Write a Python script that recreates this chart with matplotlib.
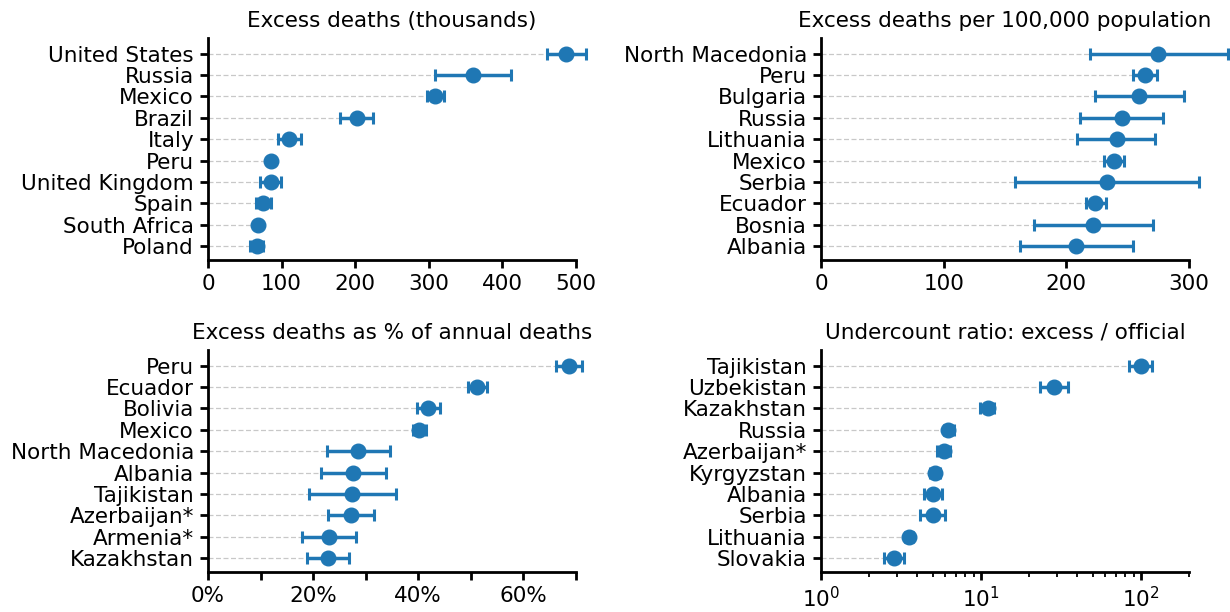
import matplotlib
matplotlib.use("Agg")
import matplotlib.pyplot as plt
import matplotlib.ticker as mticker
import numpy as np

# ---------------- data ----------------
p1_countries = ["United States", "Russia", "Mexico", "Brazil", "Italy", "Peru",
                "United Kingdom", "Spain", "South Africa", "Poland"]
p1_value = [486, 360, 309, 202, 110, 86, 85, 75, 68, 66]
p1_low = [461, 309, 297, 180, 95, 86, 71, 65, 68, 57]
p1_high = [513, 412, 320, 224, 126, 86, 99, 86, 68, 75]

p2_countries = ["North Macedonia", "Peru", "Bulgaria", "Russia", "Lithuania", "Mexico",
                "Serbia", "Ecuador", "Bosnia", "Albania"]
p2_value = [275, 264, 259, 245, 241, 239, 233, 223, 222, 208]
p2_low = [219, 254, 223, 211, 209, 231, 158, 216, 174, 162]
p2_high = [332, 274, 296, 279, 272, 247, 308, 232, 271, 254]

p3_countries = ["Peru", "Ecuador", "Bolivia", "Mexico", "North Macedonia", "Albania",
                "Tajikistan", "Azerbaijan*", "Armenia*", "Kazakhstan"]
p3_value = [0.686, 0.512, 0.419, 0.401, 0.286, 0.275, 0.274, 0.272, 0.231, 0.228]
p3_low = [0.662, 0.495, 0.397, 0.389, 0.227, 0.215, 0.192, 0.229, 0.179, 0.189]
p3_high = [0.712, 0.531, 0.441, 0.414, 0.346, 0.338, 0.358, 0.315, 0.281, 0.268]

p4_countries = ["Tajikistan", "Uzbekistan", "Kazakhstan", "Russia", "Azerbaijan*",
                "Kyrgyzstan", "Albania", "Serbia", "Lithuania", "Slovakia"]
p4_value = [99.5, 28.8, 11.0, 6.24, 5.84, 5.13, 5.03, 4.98, 3.54, 2.85]
p4_low = [84.0, 23.3, 9.9, 5.84, 5.3, 4.77, 4.43, 4.13, 3.35, 2.48]
p4_high = [117.8, 34.9, 12.1, 6.74, 6.43, 5.51, 5.72, 5.95, 3.75, 3.28]

titles = ["Excess deaths (thousands)", "Excess deaths per 100,000 population",
          "Excess deaths as % of annual deaths", "Undercount ratio: excess / official"]

# ---------------- plot ----------------
plt.rcParams['font.family'] = ['DejaVu Sans']
FS = 15.5
COLOR = "#1f77b4"

fig = plt.figure(figsize=(12.3, 6.12), dpi=100)
W, H = 1230, 612
boxes = [(208, 38, 576, 260), (821, 38, 1189, 260),
         (208, 350, 576, 572), (821, 350, 1189, 572)]
axes = [fig.add_axes([x0 / W, 1 - y1 / H, (x1 - x0) / W, (y1 - y0) / H]) for x0, y0, x1, y1 in boxes]

panels = [
    (p1_countries, p1_value, p1_low, p1_high),
    (p2_countries, p2_value, p2_low, p2_high),
    (p3_countries, p3_value, p3_low, p3_high),
    (p4_countries, p4_value, p4_low, p4_high),
]
xlims = [(0, 500), (0, 300), (0, 0.7), (1, 200)]

for i, (ax, (names, val, lo, hi)) in enumerate(zip(axes, panels)):
    n = len(names)
    y = np.arange(n)[::-1]
    val = np.array(val); lo = np.array(lo); hi = np.array(hi)
    if i == 3:
        ax.set_xscale("log")
    ax.set_xlim(*xlims[i])
    ax.set_ylim(-0.64, n - 1 + 0.73)
    xmin = xlims[i][0]
    ax.hlines(y, xmin, val, colors="#c8c8c8", linestyles=(0, (4, 2)), linewidth=0.9, zorder=1)
    ax.errorbar(val, y, xerr=[val - lo, hi - val], fmt="o", color=COLOR,
                markersize=10.5, elinewidth=2.5, capsize=4.3, capthick=2.2,
                clip_on=False, zorder=3)
    ax.set_yticks(y)
    ax.set_yticklabels(names, fontsize=FS)
    ax.set_title(titles[i], fontsize=FS, pad=8)
    for s in ["top", "right"]:
        ax.spines[s].set_visible(False)
    for s in ["left", "bottom"]:
        ax.spines[s].set_linewidth(2.0)
    ax.tick_params(axis="both", which="major", length=6, width=2, labelsize=FS, pad=4)
    ax.tick_params(axis="both", which="minor", length=3.8, width=1.3)

axes[0].set_xticks([0, 100, 200, 300, 400, 500])
axes[1].set_xticks([0, 100, 200, 300])
axes[2].set_xticks([0, 0.2, 0.4, 0.6])
axes[2].set_xticks([0.1, 0.3, 0.5, 0.7], minor=True)
axes[2].xaxis.set_major_formatter(mticker.PercentFormatter(1.0, decimals=0))
axes[2].tick_params(axis="x", which="minor", length=6, width=2)
axes[3].xaxis.set_major_locator(mticker.LogLocator(base=10, numticks=10))
axes[3].xaxis.set_minor_locator(mticker.LogLocator(base=10, subs=np.arange(2, 10), numticks=20))
axes[3].xaxis.set_minor_formatter(mticker.NullFormatter())

fig.savefig("out.png", dpi=100)
